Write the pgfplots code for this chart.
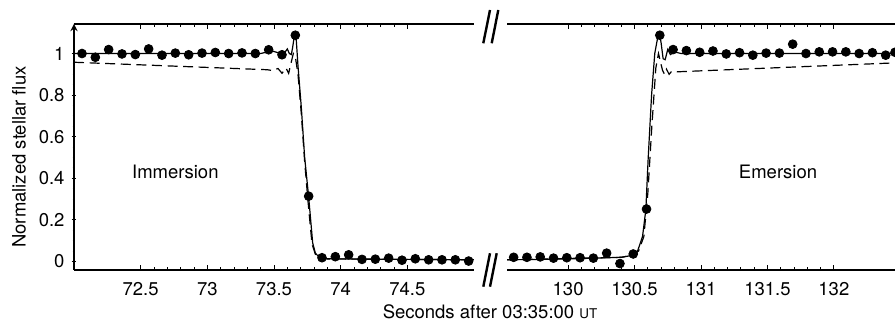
\documentclass[border=0pt]{standalone}
\usepackage{fontspec}
\setmainfont{TeX Gyre Heros}
\usepackage{pgfplots}
\pgfplotsset{compat=1.18}

\pgfplotsset{
 brk/.style={
  scale only axis, height=123pt, ymin=-0.041, ymax=1.142,
  axis x line=box,
  tick align=inside,
  major tick length=2.4pt, minor tick length=1.4pt,
  every tick/.style={black, line width=0.45pt},
  axis line style={-, line width=0.6pt},
  minor x tick num=4,
  font=\fontsize{9.25pt}{11pt}\selectfont,
  ticklabel style={font=\fontsize{9.25pt}{11pt}\selectfont},
  xticklabel style={yshift=-2.5pt},
  /pgf/number format/assume math mode=true,
 },
 model/.style={black, line width=0.6pt, no marks},
 modeld/.style={black, line width=0.6pt, no marks, dash pattern=on 5pt off 2.8pt},
 dots/.style={only marks, mark=*, mark size=2.2pt, black},
}

\begin{document}
\begin{tikzpicture}
\useasboundingbox (-37pt,-27pt) rectangle (410.5pt,135pt);

\begin{axis}[brk, at={(0,0)}, anchor=south west, width=200pt,
  xmin=72, xmax=75,
  axis y line=left,
  xtick={72.5,73,73.5,74,74.5},
  ytick={0,0.2,0.4,0.6,0.8,1}, minor y tick num=3]
\addplot[modeld] coordinates {
(72.0,0.958) (73.45,0.922) (73.49,0.918) (73.53,0.928) (73.56,0.905) (73.59,0.93)
(73.61,0.905) (73.63,0.96) (73.645,1.0) (73.66,0.985) (73.68,0.90) (73.705,0.71)
(73.73,0.48) (73.755,0.29) (73.785,0.085) (73.81,0.035) (73.84,0.018) (73.9,0.012)
(74.5,0.01) (75,0.008)};
\addplot[model] coordinates {
(72.0,1.0) (73.40,1.0) (73.44,1.006) (73.48,1.013) (73.52,1.006) (73.55,0.997)
(73.575,1.0) (73.60,1.022) (73.615,1.0) (73.63,0.995) (73.64,1.03) (73.655,1.095)
(73.665,1.085) (73.68,0.94) (73.705,0.74) (73.73,0.50) (73.76,0.31) (73.79,0.09)
(73.81,0.04) (73.84,0.02) (73.9,0.013) (74.5,0.01) (75.0,0.008)};
\addplot[dots] coordinates {
(72.06,1.000) (72.16,0.982) (72.26,1.019) (72.36,0.998) (72.46,0.995) (72.56,1.022)
(72.66,0.992) (72.76,1.002) (72.86,0.994) (72.96,1.002) (73.06,1.005) (73.16,1.000)
(73.26,1.003) (73.36,1.000) (73.46,1.018) (73.56,0.994) (73.66,1.088) (73.76,0.314)
(73.86,0.018) (73.96,0.023) (74.06,0.032) (74.16,0.010) (74.26,0.011) (74.36,0.016)
(74.46,0.006) (74.56,0.013) (74.66,0.008) (74.76,0.008) (74.86,0.008) (74.96,0.002)};
\node at (axis cs:72.76,0.43) {Immersion};
\end{axis}

\begin{axis}[brk, at={(216.5pt,0)}, anchor=south west, width=194pt,
  xmin=129.54, xmax=132.46,
  axis y line=none,
  xtick={130,130.5,131,131.5,132}]
\addplot[modeld] coordinates {
(129.54,0.008) (130.4,0.02) (130.47,0.028) (130.53,0.05) (130.57,0.12) (130.60,0.33)
(130.63,0.65) (130.66,0.93) (130.68,1.0) (130.695,0.96) (130.71,0.92) (130.725,0.9)
(130.74,0.925) (130.76,0.9) (130.78,0.915) (130.82,0.912) (132.46,0.955)};
\addplot[model] coordinates {
(129.54,0.008) (130.0,0.012) (130.4,0.02) (130.47,0.028) (130.52,0.045) (130.56,0.12)
(130.585,0.25) (130.602,0.49) (130.628,0.80) (130.652,1.0) (130.672,1.07) (130.688,1.095)
(130.70,1.05) (130.715,0.975) (130.73,0.97) (130.75,1.02) (130.77,0.995) (130.80,1.008)
(130.85,1.0) (132.46,1.0)};
\addplot[dots] coordinates {
(129.59,0.020) (129.69,0.020) (129.79,0.022) (129.89,0.016) (129.99,0.018) (130.09,0.018)
(130.19,0.016) (130.29,0.040) (130.39,-0.010) (130.49,0.036) (130.59,0.252) (130.69,1.088)
(130.79,1.019) (130.89,1.014) (130.99,1.006) (131.09,1.012) (131.19,0.998) (131.29,1.004)
(131.39,0.992) (131.49,1.002) (131.59,1.002) (131.69,1.045) (131.79,1.000) (131.89,1.008)
(131.99,1.008) (132.09,1.008) (132.19,1.000) (132.29,1.004) (132.39,0.992) (132.46,1.006)};
\node at (axis cs:131.58,0.43) {Emersion};
\end{axis}

% axis-break marks
\draw[line width=1.2pt] (204.65pt,113.35pt) -- (208pt,130pt);
\draw[line width=1.2pt] (208.85pt,113.35pt) -- (212.15pt,130pt);
\draw[line width=1.2pt] (204.65pt,-8.35pt) -- (208pt,8.35pt);
\draw[line width=1.2pt] (208pt,-8.35pt) -- (211.35pt,8.35pt);

\node[rotate=90, font=\fontsize{9.25pt}{11pt}\selectfont] at (-27.5pt,56.5pt) {Normalized stellar flux};
\node[font=\fontsize{9.25pt}{11pt}\selectfont] at (208pt,-21pt) {Seconds after 03:35:00 {\fontsize{6.7pt}{7pt}\selectfont UT}};
\end{tikzpicture}
\end{document}
